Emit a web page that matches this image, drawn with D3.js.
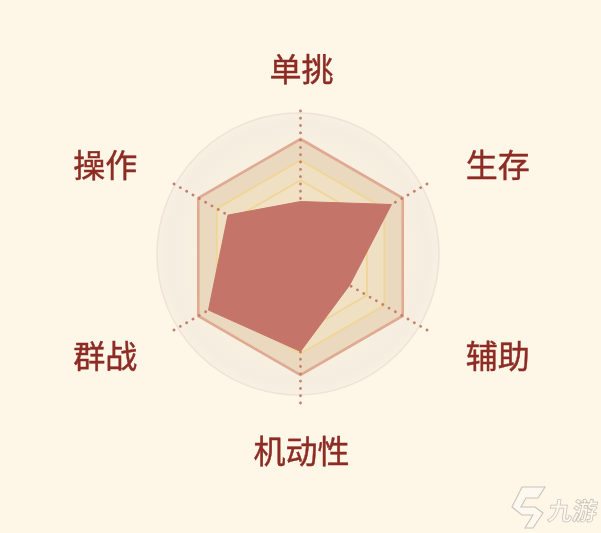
<!DOCTYPE html>
<html><head><meta charset="utf-8">
<script src="https://cdn.jsdelivr.net/npm/d3@7"></script>
<style>
html,body{margin:0;padding:0;background:#fef6e6;overflow:hidden}
svg{display:block;filter:blur(0.6px)}
text{font-family:"Noto Sans CJK SC","Noto Sans",sans-serif}
</style></head><body>
<svg id="c" width="601" height="533"></svg>
<script>
const categories = ["单挑","生存","辅助","机动性","群战","操作"];
const values = [47, 89, 48, 80, 90, 71];
const gridLevels = [65, 82];
const maxValue = 100;

const W = 601, H = 533, cx = 300.5, cy = 257, R = 118;
const svg = d3.select("#c");
const defs = svg.append("defs");
const disc = defs.append("radialGradient").attr("id","disc");
disc.append("stop").attr("offset","0.6").attr("stop-color","#f9f1e1");
disc.append("stop").attr("offset","0.93").attr("stop-color","#f5eddf");
disc.append("stop").attr("offset","1").attr("stop-color","#f8f0e2");

svg.append("rect").attr("width",W).attr("height",H).attr("fill","#fef6e6");

const r = d3.scaleLinear().domain([0,maxValue]).range([0,R]);
const angle = d3.scalePoint().domain(categories).range([0,2*Math.PI*5/6]);
const radar = d3.lineRadial().angle(d=>d.a).radius(d=>r(d.v)).curve(d3.curveLinearClosed);
const ring = v => categories.map(c=>({a:angle(c),v}));

svg.append("circle").attr("cx",298).attr("cy",254).attr("r",141)
  .attr("fill","url(#disc)").attr("stroke","#f0e2d5").attr("stroke-width",1.5);

const g = svg.append("g").attr("transform",`translate(${cx},${cy})`);

g.append("path").attr("d",radar(ring(maxValue)))
  .attr("fill","#ead9be").attr("stroke","#e0aa92").attr("stroke-width",2.6);
g.append("path").attr("d",radar(ring(gridLevels[1])))
  .attr("fill","#efdfc3").attr("stroke","#f1d596").attr("stroke-width",1.8);
g.append("path").attr("d",radar(ring(gridLevels[0])))
  .attr("fill","#f1e2c6").attr("stroke","#f1d596").attr("stroke-width",1.8);

g.selectAll("line.axis").data(categories).join("line").attr("class","axis")
  .attr("x1",0).attr("y1",0)
  .attr("x2",c=>Math.sin(angle(c))*r(128))
  .attr("y2",c=>-Math.cos(angle(c))*r(128))
  .attr("stroke","#c4806d").attr("stroke-width",2.8)
  .attr("stroke-linecap","round").attr("stroke-dasharray","0.1 7.2");

g.append("path").attr("d",radar(categories.map((c,i)=>({a:angle(c),v:values[i]}))))
  .attr("fill","#c5746a").attr("stroke","#c5746a").attr("stroke-width",1);

svg.selectAll("text.lab").data(categories).join("text").attr("class","lab")
  .attr("x",c=>cx+1+Math.sin(angle(c))*226.5)
  .attr("y",c=>cy+1-Math.cos(angle(c))*191)
  .attr("text-anchor","middle").attr("dominant-baseline","central")
  .attr("font-size",32).attr("font-weight",400).attr("fill","#8c2c25")
  .attr("stroke","#8c2c25").attr("stroke-width",0.45)
  .text(c=>c);

// watermark
const wm = svg.append("g").attr("fill","#fdf9f0").attr("stroke","#c9c4b7").attr("stroke-width",1.1);
wm.append("path").attr("d",d3.line()([[522,487],[545,487],[538,498],[526,498],[521,507],[535,507],[543,513],[533,528],[525,528],[533,515],[522,515],[512,507]])+"Z");
wm.append("text").attr("x",547).attr("y",520).attr("font-size",24.5).attr("font-weight",700)
  .attr("transform","translate(73,0) skewX(-8)").attr("stroke-width",0.8).text("九游");
</script>
</body></html>
